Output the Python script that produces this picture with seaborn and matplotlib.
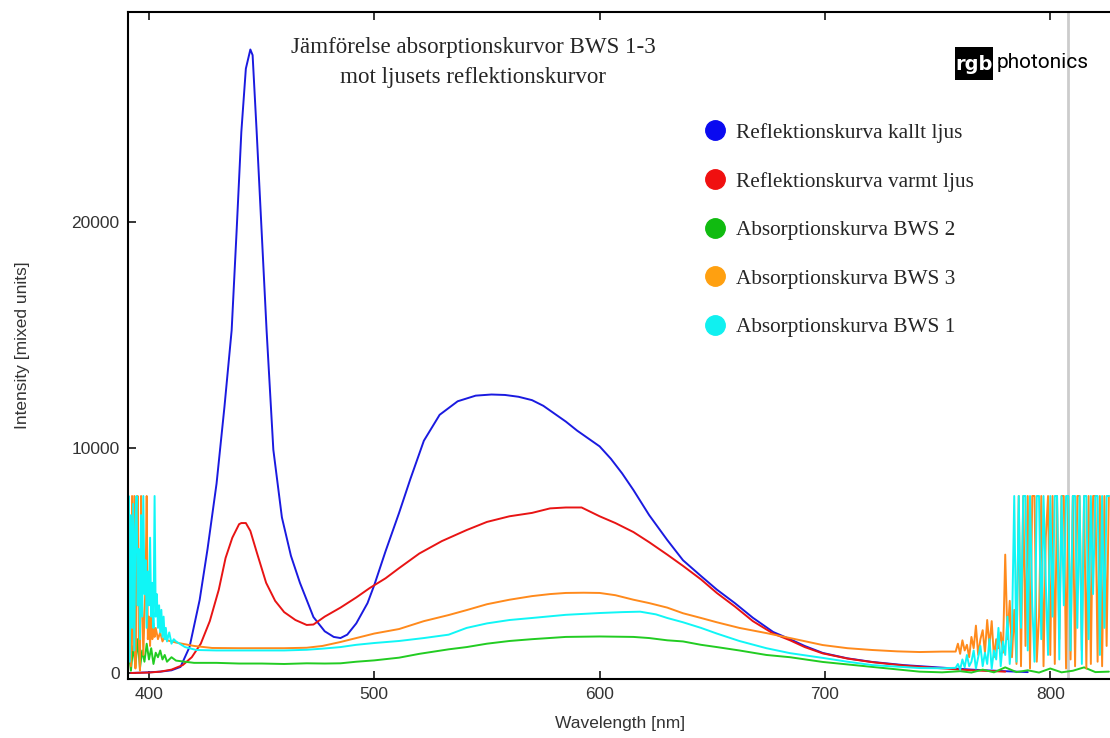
import numpy as np
import pandas as pd
import matplotlib
matplotlib.use("Agg")
import matplotlib.pyplot as plt
import seaborn as sns
from matplotlib.lines import Line2D
from matplotlib.patches import Rectangle
from matplotlib import font_manager

# ---------------- data ----------------
labels = ["Reflektionskurva kallt ljus", "Reflektionskurva varmt ljus",
          "Absorptionskurva BWS 2", "Absorptionskurva BWS 3", "Absorptionskurva BWS 1"]

wl_blue = [392, 400, 405, 410, 414, 418, 422.5, 426, 430, 433.5, 436.7, 438.9, 441, 443, 445, 446,
           447.8, 450, 452.2, 455.2, 459, 463, 467, 473, 478, 482, 485, 488, 492, 497, 500, 505, 511,
           516, 522, 529, 537, 545, 552, 558, 564, 570, 575, 580, 585, 590, 595, 600, 605, 610, 615,
           622, 630, 637, 645, 652, 660, 668, 677, 684.5, 691, 699, 710, 721, 735, 750, 765, 780, 790]
val_blue = [0, 30, 60, 120, 270, 1150, 3240, 5500, 8400, 11800, 15200, 19600, 24000, 26800, 27650, 27400,
            24000, 19600, 15200, 9900, 6900, 5200, 4000, 2480, 1850, 1600, 1550, 1700, 2200, 3100, 3900, 5400, 7100,
            8600, 10300, 11450, 12050, 12300, 12350, 12330, 12250, 12100, 11850, 11500, 11150, 10750, 10400, 10050, 9500, 8850, 8115,
            7000, 5900, 5000, 4300, 3700, 3100, 2450, 1820, 1500, 1200, 890, 650, 490, 350, 250, 150, 80, 40]

wl_red = [392, 400, 405, 410, 415, 419, 423, 427, 431, 434, 437, 440, 441, 443, 445, 448, 452, 456, 460,
          465, 470, 473, 478, 485, 492, 498, 505, 511, 520, 530, 541, 550, 560, 570, 578, 585, 592, 600,
          607, 615, 622, 630, 637, 645, 652, 660, 668, 677, 684.5, 691, 699, 710, 721, 735, 750, 765, 780]
val_red = [0, 20, 60, 150, 350, 700, 1300, 2300, 3700, 5100, 6000, 6600, 6650, 6650, 6300, 5300, 4000, 3200, 2700,
           2350, 2130, 2150, 2500, 2900, 3350, 3770, 4200, 4650, 5300, 5850, 6340, 6700, 6950, 7100, 7300, 7340, 7340, 6950,
           6650, 6250, 5800, 5250, 4750, 4150, 3550, 2950, 2300, 1750, 1450, 1150, 870, 640, 480, 330, 220, 120, 60]

wl_green = [390, 391, 392, 393, 394, 395, 396, 397, 398, 399, 400, 401, 402, 403, 404, 405, 406, 407, 408,
            410, 412, 416, 420, 430, 440, 450, 460, 470, 478, 485, 492, 500, 511, 520, 533, 541, 550, 560,
            570, 585, 600, 615, 622, 630, 637, 645, 652, 662, 674, 684.5, 699, 710, 721, 732, 742, 752,
            760, 765, 770, 775, 780, 785, 790, 795, 800, 805, 810, 815, 820, 826]
val_green = [0, 900, 100, 1200, 300, 1500, 200, 1000, 500, 1300, 600, 1100, 400, 900, 700, 1000, 600, 800, 500,
             700, 550, 500, 450, 450, 420, 420, 400, 430, 420, 430, 500, 560, 680, 850, 1050, 1150, 1300, 1420,
             1500, 1600, 1620, 1600, 1550, 1450, 1400, 1250, 1150, 1000, 800, 700, 490, 380, 270, 160, 60, 30,
             80, 20, 150, 30, 250, 40, 120, 20, 200, 30, 100, 250, 40, 60]

wl_orange = [390.5, 391, 391.5, 392, 392.5, 393, 393.5, 394, 394.5, 395, 395.5, 396, 396.5, 397, 397.5, 398,
             398.5, 399, 399.5, 400, 400.5, 401, 401.5, 402, 402.5, 403, 404, 405, 406, 407, 408, 410, 412,
             420, 428, 440, 450, 460, 470, 477, 485, 492, 500, 511, 522, 533, 541, 550, 560, 570, 578, 585,
             593, 600, 607, 615, 622, 630, 637, 645, 652, 662, 674, 684.5, 699, 710, 721, 732, 742, 752,
             758, 759, 760, 761, 762, 763, 764, 765, 766, 767, 768, 769, 770, 771, 772, 773, 774, 775, 776,
             777, 778, 779, 780, 781, 782, 783, 784, 785, 786, 787, 788, 789, 790, 791, 792, 793, 794, 795,
             796, 797, 798, 799, 800, 801, 802, 803, 804, 805, 806, 807, 808, 809, 810, 811, 812, 813, 814,
             815, 816, 817, 818, 819, 820, 821, 822, 823, 824, 825, 826]
val_orange = [7850, 500, 6000, 300, 7850, 1000, 7850, 200, 5000, 7850, 1500, 100, 7850, 3000, 800, 2500,
              4000, 7850, 1500, 2500, 1200, 3000, 1500, 2200, 1600, 2000, 1500, 1800, 1400, 1600, 1450, 1400, 1350,
              1200, 1110, 1100, 1100, 1100, 1120, 1200, 1375, 1550, 1750, 1950, 2300, 2570, 2790, 3050, 3250, 3410, 3500, 3550,
              3560, 3550, 3450, 3250, 3100, 2900, 2650, 2440, 2250, 2000, 1770, 1550, 1240, 1100, 1020, 960, 930, 950,
              950, 1300, 850, 1450, 1000, 1250, 700, 1600, 1100, 2100, 800, 1500, 1900, 900, 2350, 1200, 2300, 700, 1500,
              1100, 1800, 900, 5250, 1500, 3200, 700, 2800, 400, 7850, 300, 7850, 1200, 7850, 200, 7850, 7850, 500, 2500,
              7850, 300, 6000, 7850, 800, 7850, 400, 7850, 1500, 7850, 7850, 200, 7850, 600, 7850, 300, 7850, 7850, 1000,
              7850, 200, 7850, 400, 7850, 7850, 500, 7850, 300, 7850, 1200, 7850]

wl_cyan = [390.5, 391, 391.5, 392, 392.5, 393, 393.5, 394, 394.5, 395, 395.5, 396, 396.5, 397, 397.5, 398,
           398.5, 399, 399.5, 400, 400.5, 401, 401.5, 402, 402.5, 403, 403.5, 404, 404.5, 405, 405.5, 406,
           406.5, 407, 407.5, 408, 409, 410, 411, 412, 416, 421, 430, 440, 450, 460, 470, 477, 485, 492,
           500, 511, 522, 533, 541, 550, 560, 570, 585, 600, 610, 618, 625, 630, 637, 645, 652, 662, 674,
           684.5, 699, 710, 721, 732, 742, 752, 758, 759, 760, 761, 762, 763, 764, 765, 766, 767, 768, 769,
           770, 771, 772, 773, 774, 775, 776, 777, 778, 779, 780, 781, 782, 783, 784, 785, 786, 787, 788,
           789, 790, 791, 792, 793, 794, 795, 796, 797, 798, 799, 800, 801, 802, 803, 804, 805, 806, 807,
           808, 809, 810, 811, 812, 813, 814, 815, 816, 817, 818, 819, 820, 821, 822, 823, 824, 825, 826]
val_cyan = [3000, 7850, 500, 7000, 2000, 7500, 1000, 6500, 7850, 3000, 5500, 1500, 7000, 2500, 7850, 3500,
            5000, 2000, 4500, 3000, 6000, 2500, 4000, 2000, 7850, 2500, 3500, 2000, 3000, 1800, 2800, 1600,
            2500, 1500, 2000, 1400, 1800, 1300, 1500, 1400, 1150, 1020, 1000, 1000, 1000, 1000, 1030, 1080, 1150, 1250,
            1330, 1420, 1550, 1700, 2000, 2200, 2350, 2440, 2580, 2660, 2700, 2720, 2600, 2440, 2250, 2000, 1750, 1420, 1100,
            880, 670, 500, 350, 280, 220, 210, 230, 400, 150, 600, 250, 800, 300, 500, 1000, 200, 700, 1200,
            300, 900, 400, 1500, 200, 1000, 600, 2000, 300, 1400, 800, 2500, 400, 1800, 7850, 500, 7850, 2000, 7850,
            7850, 1000, 7850, 3000, 500, 7850, 7850, 1500, 7850, 4000, 800, 7850, 2500, 7850, 7850, 600, 7850, 3000, 7850,
            7850, 1000, 7850, 7850, 2000, 7850, 400, 7850, 7850, 1500, 7850, 3500, 7850, 7850, 800, 7850, 2000, 7850, 7850]

line_colors = ["#1a1ae0", "#e81414", "#22cc22", "#ff8a1c", "#10f6f6"]
marker_colors = ["#0a0af0", "#f01010", "#10bb10", "#ffa010", "#10f0f0"]
mark_nm = 808

# ---------------- build table ----------------
series_x = [wl_blue, wl_red, wl_green, wl_orange, wl_cyan]
series_y = [val_blue, val_red, val_green, val_orange, val_cyan]
frames = []
for lab, xs, ys in zip(labels, series_x, series_y):
    frames.append(pd.DataFrame({"wl": xs, "val": ys, "series": lab}))
df = pd.concat(frames, ignore_index=True)

# ---------------- style ----------------
sns.set_style("ticks")
plt.rcParams["font.family"] = ["Liberation Sans", "DejaVu Sans"]

avail = {f.name for f in font_manager.fontManager.ttflist}
logo_font = "Liberation Sans Narrow" if "Liberation Sans Narrow" in avail else "Roboto"

W, H = 1110, 738
fig = plt.figure(figsize=(W / 100, H / 100), dpi=100)
ax = fig.add_axes([128 / W, 1 - 679 / H, 1 - 128 / W, (679 - 12) / H])

ax.axvline(mark_nm, color="#cccccc", lw=2, zorder=0.5)

sns.lineplot(data=df, x="wl", y="val", hue="series", hue_order=labels,
             palette=dict(zip(labels, line_colors)), estimator=None, sort=False,
             linewidth=1.4, legend=False, ax=ax)

ax.set_xlim(390.7, 826.5)
ax.set_ylim(-266, 29313)
ax.set_xticks([400, 500, 600, 700, 800])
ax.set_yticks([0, 10000, 20000])
ax.tick_params(direction="in", top=True, right=False, length=6, width=1.3,
               labelsize=12.5, labelcolor="#333333", pad=6)
for s in ["left", "bottom", "top"]:
    ax.spines[s].set_linewidth(1.5)
    ax.spines[s].set_color("black")
ax.spines["right"].set_visible(False)

ax.set_xlabel("Wavelength [nm]", fontsize=12.5, color="#333333")
ax.set_ylabel("Intensity [mixed units]", fontsize=12.5, color="#333333")
ax.xaxis.set_label_coords(0.501, -0.055)
ax.yaxis.set_label_coords(-0.100, 0.5)

# title
fig.text(473 / W, 1 - 48 / H, "Jämförelse absorptionskurvor BWS 1-3", ha="center", va="center",
         family="Liberation Serif", fontsize=16.6)
fig.text(473 / W, 1 - 77 / H, "mot ljusets reflektionskurvor", ha="center", va="center",
         family="Liberation Serif", fontsize=16.6)

# logo
fig.add_artist(Rectangle((955 / W, 1 - 80 / H), 38 / W, 33 / H, transform=fig.transFigure,
                         facecolor="black", edgecolor="none"))
fig.text(974 / W, 1 - 65 / H, "rgb", ha="center", va="center", color="white", fontsize=14,
         fontweight="bold", family="DejaVu Sans")
fig.text(997 / W, 1 - 63 / H, "photonics", ha="left", va="center", color="black",
         fontsize=15, family=logo_font)

# legend
handles = [Line2D([], [], marker="o", ls="", color=c, markersize=14) for c in marker_colors]
fig.legend(handles, labels, loc="upper left", bbox_to_anchor=(705 / W, 1 - 123 / H),
           frameon=False, prop=dict(family="Liberation Serif", size=15.3),
           labelspacing=1.35, handletextpad=0.5, borderpad=0, borderaxespad=0, handlelength=0.95)

fig.savefig("out.png", dpi=100)
